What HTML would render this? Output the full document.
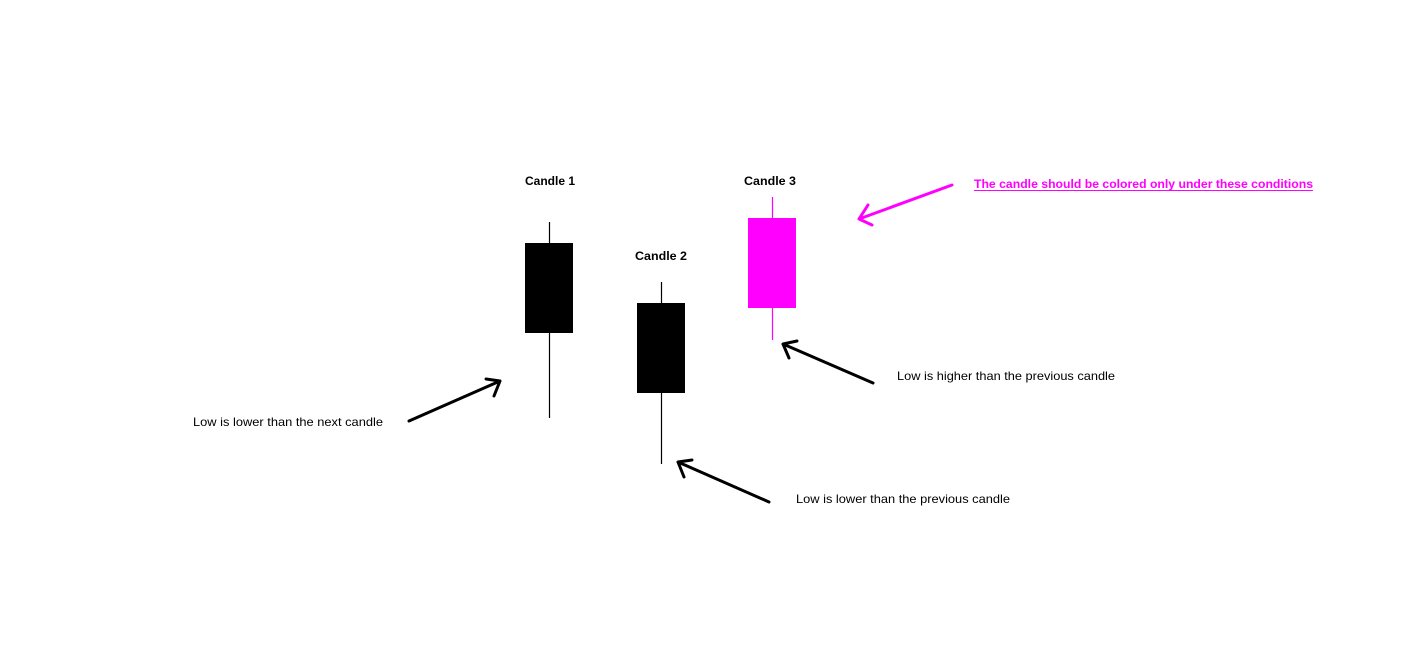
<!DOCTYPE html>
<html><head><style>
body{margin:0;width:1428px;height:654px;background:#fff;overflow:hidden;font-family:"Liberation Sans",sans-serif;}
</style></head><body>
<svg width="1428" height="654" xmlns="http://www.w3.org/2000/svg" style="position:absolute;left:0;top:0">
<g font-family="Liberation Sans, sans-serif" font-size="12">
<text x="525" y="185" font-weight="bold" textLength="50" lengthAdjust="spacingAndGlyphs">Candle 1</text>
<text x="635" y="260" font-weight="bold" textLength="52" lengthAdjust="spacingAndGlyphs">Candle 2</text>
<text x="744" y="185" font-weight="bold" textLength="52" lengthAdjust="spacingAndGlyphs">Candle 3</text>
<text x="974" y="188" fill="#ff00ff" font-weight="bold" textLength="339" lengthAdjust="spacingAndGlyphs">The candle should be colored only under these conditions</text>
<line x1="974" y1="190.5" x2="1313" y2="190.5" stroke="#ff00ff" stroke-width="1"/>
<text x="193" y="426" textLength="190" lengthAdjust="spacingAndGlyphs">Low is lower than the next candle</text>
<text x="796" y="503" textLength="214" lengthAdjust="spacingAndGlyphs">Low is lower than the previous candle</text>
<text x="897" y="380" textLength="218" lengthAdjust="spacingAndGlyphs">Low is higher than the previous candle</text>
</g>
<line x1="549.5" y1="222" x2="549.5" y2="418" stroke="#000" stroke-width="1.2"/>
<rect x="525" y="243" width="48" height="90" fill="#000"/>
<line x1="661.5" y1="282" x2="661.5" y2="464" stroke="#000" stroke-width="1.2"/>
<rect x="637" y="303" width="48" height="90" fill="#000"/>
<line x1="772.5" y1="197" x2="772.5" y2="340" stroke="#ff00ff" stroke-width="1.2"/>
<rect x="748" y="218" width="48" height="90" fill="#ff00ff"/>
<g fill="none" stroke-width="3" stroke-linecap="round" stroke-linejoin="round">
<g stroke="#000">
<path d="M409 421 L500 381 M486 379 L500 381 L494 396"/>
<path d="M769 502 L678 462 M692 460 L678 462 L684 477"/>
<path d="M873 383 L783 344 M797 341 L783 344 L789 358"/>
</g>
<path stroke="#ff00ff" d="M952 185 L859 219 M868 205 L859 219 L872 225"/>
</g>
</svg>
</body></html>
